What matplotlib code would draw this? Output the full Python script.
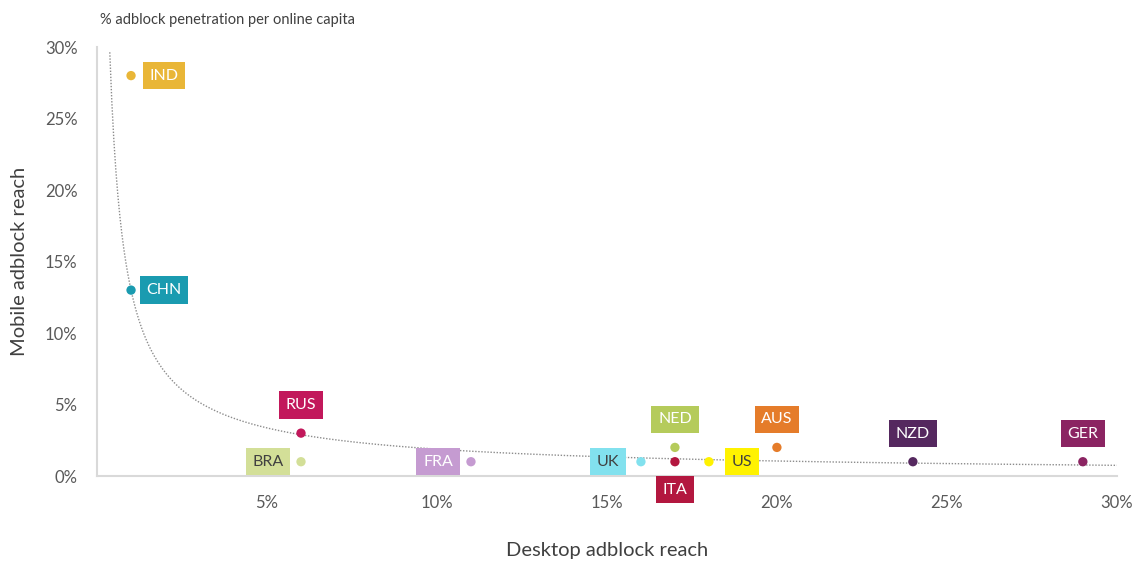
import matplotlib
matplotlib.use("Agg")
from matplotlib import pyplot as plt
import numpy as np

plt.rcParams['font.family'] = ['Lato', 'DejaVu Sans']

countries = ['IND', 'CHN', 'RUS', 'BRA', 'FRA', 'UK', 'NED', 'ITA', 'US', 'AUS', 'NZD', 'GER']
desktop = [1, 1, 6, 6, 11, 16, 17, 17, 18, 20, 24, 29]
mobile = [28, 13, 3, 1, 1, 1, 2, 1, 1, 2, 1, 1]
colors = ['#E9B637', '#1A9BB0', '#C2185B', '#D3DF98', '#C59BD1', '#82E1EE',
          '#B5CB5B', '#B3173F', '#FFF200', '#E57C2A', '#55285F', '#8B2462']
text_colors = ['white', 'white', 'white', '#404040', 'white', '#404040',
               'white', 'white', '#404040', 'white', 'white', 'white']
# label position relative to the point
sides = ['right', 'right', 'above', 'left', 'left', 'left',
         'above', 'below', 'right', 'above', 'above', 'above']

# power trendline y = a * x^b
trend_a = 13.0
trend_b = -0.84

fig = plt.figure(figsize=(11.35, 5.63), dpi=100)
ax = fig.add_axes([0.0855, 0.1545, 0.8985, 0.762])

tx = np.linspace(0.375, 30, 500)
ax.plot(tx, trend_a * tx ** trend_b, linestyle=(0, (1, 1.2)), color='#8C8C8C', lw=1.0,
        zorder=1, clip_on=False)

ax.scatter(desktop, mobile, s=45, c=colors, zorder=3, edgecolors='none')

offsets = {'right': (33, 0), 'left': (-33, 0), 'above': (0, 28), 'below': (0, -28)}
for name, x, y, c, tc, side in zip(countries, desktop, mobile, colors, text_colors, sides):
    dx, dy = offsets[side]
    ax.annotate(name, (x, y), xytext=(dx, dy), textcoords='offset pixels',
                ha='center', va='center', fontsize=11.5, color=tc, zorder=4,
                bbox=dict(boxstyle='square,pad=0.42', fc=c, ec='none'))

ax.set_xlim(0, 30)
ax.set_ylim(0, 30)
ax.set_xticks([5, 10, 15, 20, 25, 30])
ax.set_xticklabels([f'{v}%' for v in [5, 10, 15, 20, 25, 30]])
ax.set_yticks(range(0, 31, 5))
ax.set_yticklabels([f'{v}%' for v in range(0, 31, 5)])
ax.tick_params(axis='both', length=0, labelsize=12, colors='#595959')
ax.tick_params(axis='x', pad=14)
ax.tick_params(axis='y', pad=14)

for s in ['top', 'right']:
    ax.spines[s].set_visible(False)
for s in ['left', 'bottom']:
    ax.spines[s].set_color('#D9D9D9')
    ax.spines[s].set_linewidth(1.5)

ax.set_xlabel('Desktop adblock reach', fontsize=14.5, color='#404040', labelpad=22)
ax.set_ylabel('Mobile adblock reach', fontsize=14.5, color='#404040', labelpad=12)
fig.text(0.088, 0.965, '% adblock penetration per online capita', fontsize=10.5,
         color='#404040', ha='left', va='center')

plt.savefig('out.png')
